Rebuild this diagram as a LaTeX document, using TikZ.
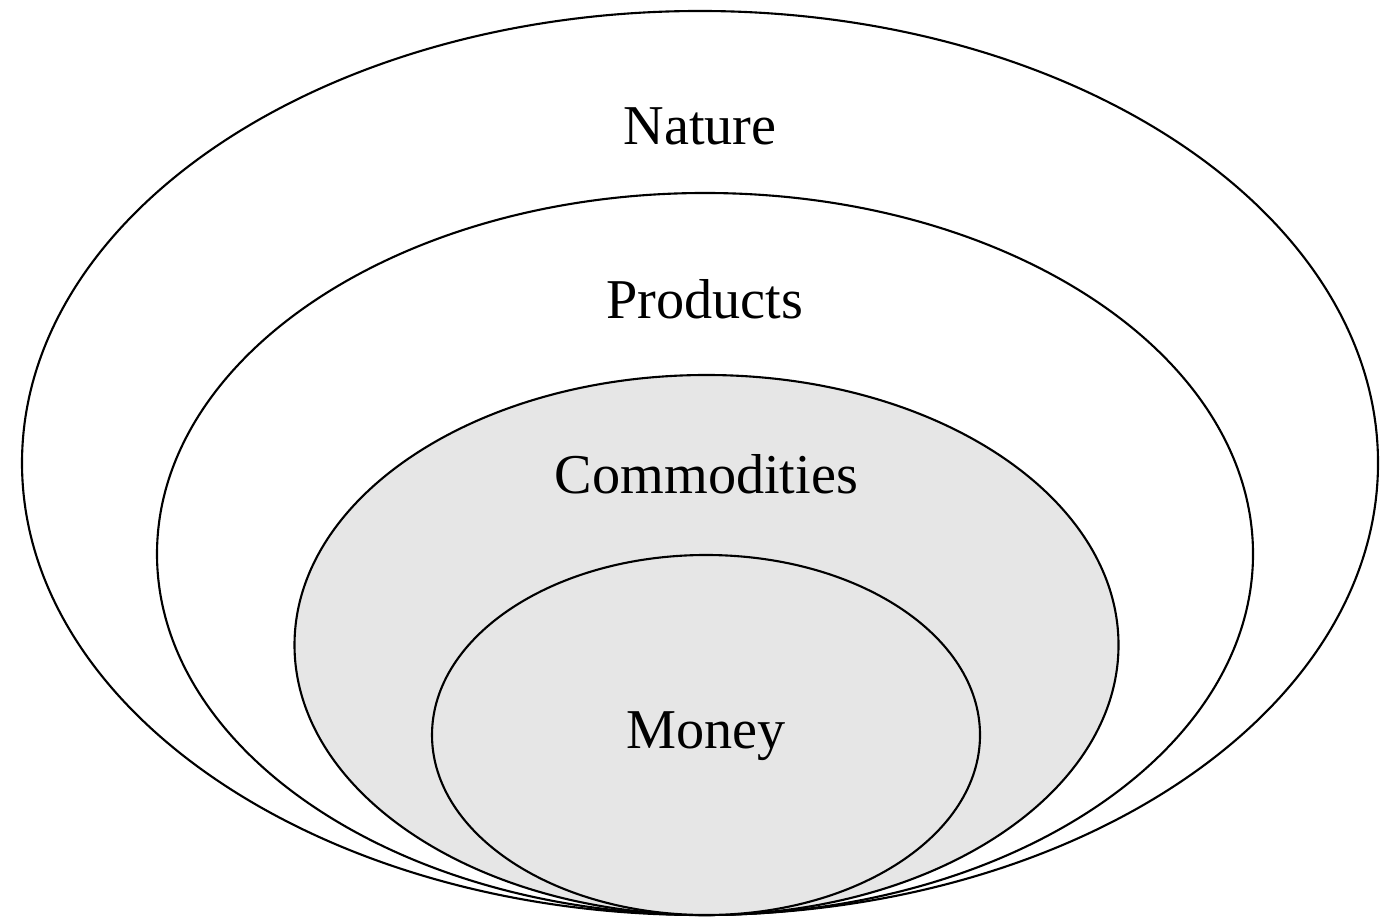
\documentclass[tikz,border=0pt]{standalone}
\usepackage{fontspec}
\setmainfont{Liberation Serif}
\usetikzlibrary{positioning}
\usetikzlibrary{shapes.geometric}
\definecolor{ringgray}{HTML}{E6E6E6}
\tikzset{
  ring/.style 2 args= {
    ellipse,
    draw = black,
    line width = 0.6pt,
    fill = white,
    inner sep = 0pt,
    minimum width = #1,
    minimum height = #2
  },
  ringlabel/.style= {
    font = \fontsize{16}{19}\selectfont,
    inner sep = 0pt
  }
}
\begin{document}
\begin{tikzpicture}

  \useasboundingbox (0,0) rectangle (13.81,9.21);

  % nested rings, all touching at the bottom
  \node[ring={13.56cm}{9.04cm}] (nature) at (7.00,4.58) {};
  \node[ring={10.96cm}{7.22cm}] (products) at (7.05,3.67) {};
  \node[ring={8.24cm}{5.40cm},fill=ringgray] (commodities) at (7.065,2.76) {};
  \node[ring={5.48cm}{3.60cm},fill=ringgray] (money) at (7.06,1.86) {};

  % labels
  \node[ringlabel,below=0.97cm of nature.north] (naturelab) {Nature};
  \node[ringlabel,below=0.87cm of products.north] (productslab) {Products};
  \node[ringlabel,below=0.80cm of commodities.north] (commoditieslab) {Commodities};
  \node[ringlabel] (moneylab) at (7.06,1.85) {Money};

\end{tikzpicture}
\end{document}
